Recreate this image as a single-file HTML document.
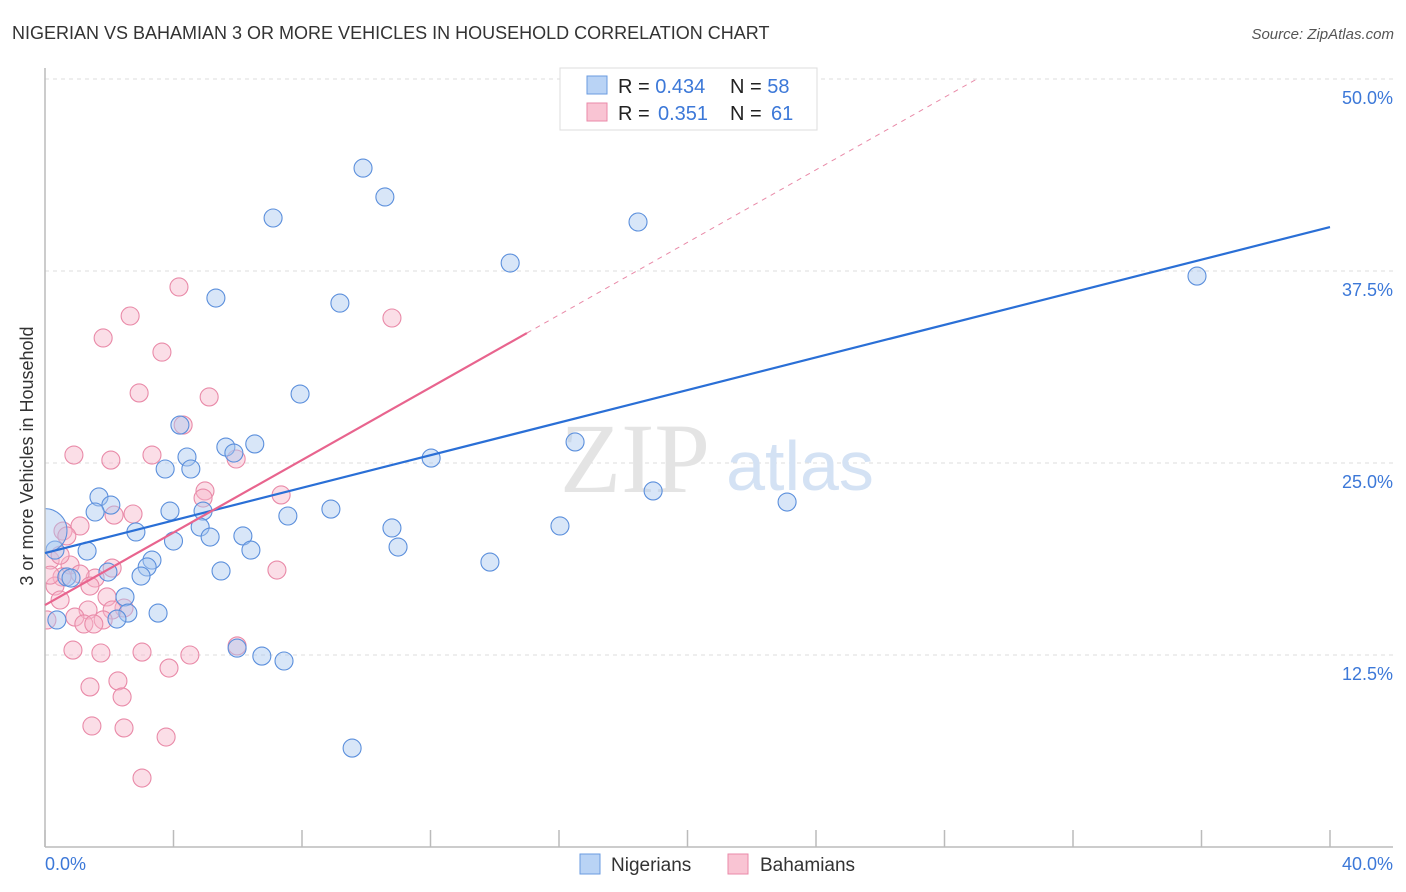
<!DOCTYPE html>
<html><head><meta charset="utf-8"><style>
body{margin:0;background:#fff;font-family:"Liberation Sans",sans-serif;}
svg{display:block}
</style></head><body>
<svg id="chart" width="1406" height="892" xmlns="http://www.w3.org/2000/svg">
<defs><clipPath id="plotclip"><rect x="45" y="60" width="1360" height="787"/></clipPath></defs>
<text x="12" y="39" font-size="18" fill="#333">NIGERIAN VS BAHAMIAN 3 OR MORE VEHICLES IN HOUSEHOLD CORRELATION CHART</text>
<text x="1394" y="39" font-size="15" fill="#555" font-style="italic" text-anchor="end">Source: ZipAtlas.com</text>
<g id="grid"></g>
<text x="635" y="492" font-size="100" font-family="Liberation Serif,serif" fill="#e4e4e4" text-anchor="middle">ZIP</text>
<text x="800" y="490" font-size="70" fill="#d4e2f4" text-anchor="middle">atlas</text>
<g id="pts" clip-path="url(#plotclip)"></g>
<g id="axes"></g>
<g id="trends"></g>
<text x="33" y="456" font-size="18" fill="#333" text-anchor="middle" transform="rotate(-90 33 456)">3 or more Vehicles in Household</text>
<text x="45" y="870" font-size="18" fill="#3c78d8">0.0%</text>
<text x="1393" y="870" font-size="18" fill="#3c78d8" text-anchor="end">40.0%</text>
<g>
<rect x="560" y="68" width="257" height="62" fill="#fff" stroke="#ddd"/>
<rect x="587" y="76" width="20" height="18" fill="#b9d3f5" stroke="#6a9be0"/>
<rect x="587" y="103" width="20" height="18" fill="#f9c4d3" stroke="#ea8aa8"/>
<text x="618" y="93" font-size="20" fill="#222">R = <tspan fill="#3c78d8">0.434</tspan><tspan x="730">N = </tspan><tspan fill="#3c78d8">58</tspan></text>
<text x="618" y="120" font-size="20" fill="#222">R = <tspan x="658" fill="#3c78d8">0.351</tspan><tspan x="730">N = </tspan><tspan x="771" fill="#3c78d8">61</tspan></text>
</g>
<g>
<rect x="580" y="854" width="20" height="20" fill="#b9d3f5" stroke="#6a9be0"/>
<text x="611" y="871" font-size="19" fill="#333">Nigerians</text>
<rect x="728" y="854" width="20" height="20" fill="#f9c4d3" stroke="#ea8aa8"/>
<text x="760" y="871" font-size="19" fill="#333">Bahamians</text>
</g>
</svg>
<script>
const yTicks=[12.5,25,37.5,50];
const yTickLabels=["12.5%","25.0%","37.5%","50.0%"];
const xTicks=[0,4,8,12,16,20,24,28,32,36,40];
const nigX=[9.90,10.58,7.10,18.46,14.48,35.86,5.32,9.18,7.94,4.20,5.63,6.53,5.88,4.42,16.50,12.02,3.74,4.54,18.93,23.10,1.68,2.05,1.56,3.89,4.92,7.56,8.90,4.83,2.83,10.80,16.03,4.00,5.14,6.16,10.99,6.41,1.31,0.31,13.85,3.33,3.18,2.99,5.48,1.96,0.68,0.81,2.49,2.58,3.52,2.24,0.37,5.98,6.75,7.44,9.56];
const nigY=[44.20,42.32,40.95,40.69,38.02,37.17,35.74,35.41,29.49,27.47,26.04,26.24,25.65,25.39,26.37,25.32,24.61,24.61,23.18,22.46,22.79,22.26,21.81,21.87,21.87,21.55,22.00,20.83,20.51,20.77,20.90,19.92,20.18,20.25,19.53,19.33,19.27,19.33,18.55,18.68,18.23,17.64,17.97,17.90,17.58,17.51,16.28,15.23,15.23,14.84,14.78,12.95,12.43,12.11,6.44];
const bahX=[4.17,2.65,10.80,1.81,3.64,2.93,5.11,4.30,0.90,3.33,2.05,5.95,7.35,4.98,4.92,2.74,2.15,1.09,0.56,0.68,0.16,0.78,2.09,7.22,0.53,1.56,1.09,0.31,1.40,1.93,0.47,2.46,1.34,2.09,0.93,1.81,1.21,1.52,0.06,5.98,0.87,1.74,3.02,4.51,3.86,1.40,2.27,2.40,1.46,2.46,3.77,3.02,0.47,0.16];
const bahY=[36.46,34.57,34.44,33.14,32.22,29.56,29.30,27.47,25.52,25.52,25.19,25.26,22.92,23.18,22.72,21.68,21.61,20.90,20.57,20.25,18.68,18.36,18.16,18.03,17.58,17.51,17.77,16.99,16.99,16.28,16.08,15.56,15.43,15.43,14.97,14.78,14.52,14.52,14.78,13.09,12.82,12.63,12.69,12.50,11.65,10.42,10.81,9.77,7.88,7.75,7.16,4.49,19.0,17.7];
const nigTrend=[[0,19.14],[40,40.36]];
const bahTrend=[[0,15.75],[15,33.46]];
const bahTrendExt=[[15,33.46],[29,49.99]];
const X=v=>45+v*(1330-45)/40;
const Y=v=>847-v*(847-79)/50;
const NS="http://www.w3.org/2000/svg";
function mk(t,a,p){const e=document.createElementNS(NS,t);for(const k in a)e.setAttribute(k,a[k]);p.appendChild(e);return e;}
const grid=document.getElementById('grid'),axes=document.getElementById('axes'),pts=document.getElementById('pts'),tr=document.getElementById('trends');
yTicks.forEach((v,i)=>{
 const l=mk('line',{x1:45,x2:1393,y1:Y(v),y2:Y(v),stroke:'#ddd','stroke-dasharray':'4,4'},grid);
 
 
 const t=mk('text',{x:1393,y:Y(v)+25,'font-size':18,fill:'#3c78d8','text-anchor':'end'},axes);
 t.textContent=yTickLabels[i];
 
 
});
const ya=mk('line',{x1:45,x2:45,y1:68,y2:847,stroke:'#bbb','stroke-width':1.5},axes);


const xa=mk('line',{x1:45,x2:1393,y1:847,y2:847,stroke:'#bbb','stroke-width':1.5},axes);


xTicks.forEach(v=>{
 const l=mk('line',{x1:X(v),x2:X(v),y1:830,y2:847,stroke:'#bbb','stroke-width':1.5},axes);
 
 
});
function dots(xs,ys,fill,stroke,name){
 xs.forEach((x,i)=>{
  const c=mk('circle',{cx:X(x),cy:Y(ys[i]),r:9,fill:fill,'fill-opacity':0.45,stroke:stroke,'stroke-width':1.1},pts);
  
  
 });
}
dots(bahX,bahY,'#f7b6ca','#e98aa8','bahamian-point');
dots(nigX,nigY,'#a9c8f0','#5b8fdc','nigerian-point');
const big=mk('circle',{cx:X(0),cy:Y(20.6),r:22,fill:'#a9c8f0','fill-opacity':0.45,stroke:'#5b8fdc','stroke-width':1},pts);


function line(d,stroke,w,dash,name){
 const a={x1:X(d[0][0]),y1:Y(d[0][1]),x2:X(d[1][0]),y2:Y(d[1][1]),stroke:stroke,'stroke-width':w};
 if(dash)a['stroke-dasharray']=dash;
 const l=mk('line',a,tr);
 
 
}
line(bahTrendExt,'#e98aa8',1,'5,5','bahamian-trend-extension');
line(nigTrend,'#2a6fd6',2.2,null,'nigerian-trend-line');
line(bahTrend,'#e8648e',2.2,null,'bahamian-trend-line');
</script>
</body></html>
